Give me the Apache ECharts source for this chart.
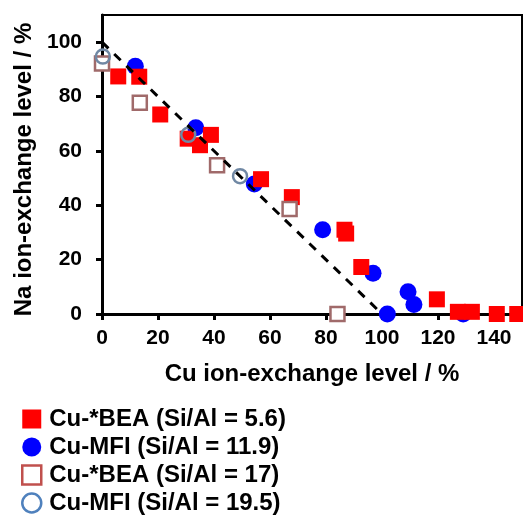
<!DOCTYPE html>
<html>
<head>
<meta charset="utf-8">
<script src="https://cdn.jsdelivr.net/npm/echarts@6/dist/echarts.min.js"></script>
<style>
  html, body { margin: 0; padding: 0; background: #fff; }
  #chart { width: 523px; height: 517px; }
</style>
</head>
<body>
<div id="chart"></div>
<script>
// Cu vs Na ion-exchange levels (%) for each zeolite sample
const bea56Cu = [5.8, 13.3, 20.8, 30.6, 35.0, 38.9, 56.8, 67.8, 86.6, 87.2, 92.6, 119.6, 127.1, 132.1, 141.0, 148.3];
const bea56Na = [87.4, 87.3, 73.4, 64.5, 62.1, 65.9, 49.6, 43.0, 31.0, 29.6, 17.3, 5.4, 0.8, 0.8, 0.0, 0.0];

const mfi119Cu = [11.9, 33.5, 54.4, 78.8, 96.8, 101.9, 109.3, 111.4, 129.0];
const mfi119Na = [91.1, 68.5, 47.8, 31.0, 15.0, 0.0, 8.2, 3.5, 0.0];

const bea17Cu = [0.0, 13.5, 41.1, 67.0, 84.1];
const bea17Na = [92.2, 77.7, 54.7, 38.6, 0.0];

const mfi195Cu = [0.3, 30.8, 49.3];
const mfi195Na = [94.7, 65.9, 50.7];

// 1:1 exchange reference line
const refCu = [0, 100];
const refNa = [100, 0];

const seriesNames = [
  'Cu-*BEA (Si/Al = 5.6)',
  'Cu-MFI (Si/Al = 11.9)',
  'Cu-*BEA (Si/Al = 17)',
  'Cu-MFI (Si/Al = 19.5)'
];

const xTicks = { min: 0, max: 150, interval: 20 };
const yTicks = { min: 0, max: 110, interval: 20 };

const pairs = (xs, ys) => xs.map((x, i) => [x, ys[i]]);

const FONT = '"Liberation Sans", Arial, sans-serif';

const chart = echarts.init(document.getElementById('chart'), null, { renderer: 'canvas' });

chart.setOption({
  animation: false,
  backgroundColor: '#ffffff',
  grid: {
    left: 102, right: 1, top: 15, bottom: 203,
    show: true, borderColor: '#000', borderWidth: 2, backgroundColor: 'transparent'
  },
  xAxis: {
    type: 'value',
    min: xTicks.min, max: xTicks.max, interval: xTicks.interval,
    name: 'Cu ion-exchange level / %',
    nameLocation: 'middle',
    nameGap: 48,
    nameTextStyle: { fontFamily: FONT, fontWeight: 'bold', fontSize: 24, color: '#000' },
    splitLine: { show: false },
    axisLine: { onZero: false, lineStyle: { color: '#000', width: 3 } },
    axisTick: { show: true, inside: false, length: 6, lineStyle: { color: '#000', width: 3 } },
    axisLabel: {
      showMaxLabel: false,
      margin: 14,
      fontFamily: FONT, fontWeight: 'bold', fontSize: 21, color: '#000'
    }
  },
  yAxis: {
    type: 'value',
    min: yTicks.min, max: yTicks.max, interval: yTicks.interval,
    name: 'Na ion-exchange level / %',
    nameLocation: 'middle',
    nameGap: 63,
    nameTextStyle: { fontFamily: FONT, fontWeight: 'bold', fontSize: 24, color: '#000', padding: [0, 10, 0, 0] },
    splitLine: { show: false },
    axisLine: { onZero: false, lineStyle: { color: '#000', width: 3 } },
    axisTick: { show: true, inside: false, length: 6, lineStyle: { color: '#000', width: 3 } },
    axisLabel: {
      showMaxLabel: false,
      margin: 20,
      fontFamily: FONT, fontWeight: 'bold', fontSize: 21, color: '#000'
    }
  },
  legend: {
    orient: 'vertical',
    left: 21, top: 407,
    padding: 0,
    height: 110,
    itemWidth: 19, itemHeight: 19,
    itemGap: 4,
    textStyle: { fontFamily: FONT, fontWeight: 'bold', fontSize: 24, color: '#000', padding: [0, 0, 0, 3] },
    data: [
      { name: seriesNames[0], icon: 'rect', itemStyle: { color: '#ff0000', borderWidth: 0 } },
      { name: seriesNames[1], icon: 'circle', itemStyle: { color: '#0000ff', borderWidth: 0 } },
      { name: seriesNames[2], icon: 'rect', itemStyle: { color: '#ffffff', borderColor: '#c0504d', borderWidth: 2.5 } },
      { name: seriesNames[3], icon: 'circle', itemStyle: { color: '#ffffff', borderColor: '#4f81bd', borderWidth: 2.5 } }
    ]
  },
  series: [
    {
      name: seriesNames[1], type: 'scatter',
      data: pairs(mfi119Cu, mfi119Na),
      symbol: 'circle', symbolSize: 17,
      itemStyle: { color: '#0000ff', opacity: 1 }
    },
    {
      name: seriesNames[0], type: 'scatter',
      data: pairs(bea56Cu, bea56Na),
      symbol: 'rect', symbolSize: 16,
      itemStyle: { color: '#ff0000', opacity: 1 }
    },
    {
      name: seriesNames[2], type: 'scatter',
      data: pairs(bea17Cu, bea17Na),
      symbol: 'rect', symbolSize: 14,
      itemStyle: { color: '#ffffff', borderColor: '#a06a6a', borderWidth: 2.5, opacity: 1 }
    },
    {
      name: seriesNames[3], type: 'scatter',
      data: pairs(mfi195Cu, mfi195Na),
      symbol: 'circle', symbolSize: 14,
      itemStyle: { color: 'rgba(255,255,255,0)', borderColor: '#7088a4', borderWidth: 2.5, opacity: 1 }
    },
    {
      name: 'ref', type: 'line',
      data: pairs(refCu, refNa),
      symbol: 'none',
      lineStyle: { color: '#000', width: 3, type: [9, 8] },
      z: 5,
      silent: true
    }
  ]
});
</script>
</body>
</html>
